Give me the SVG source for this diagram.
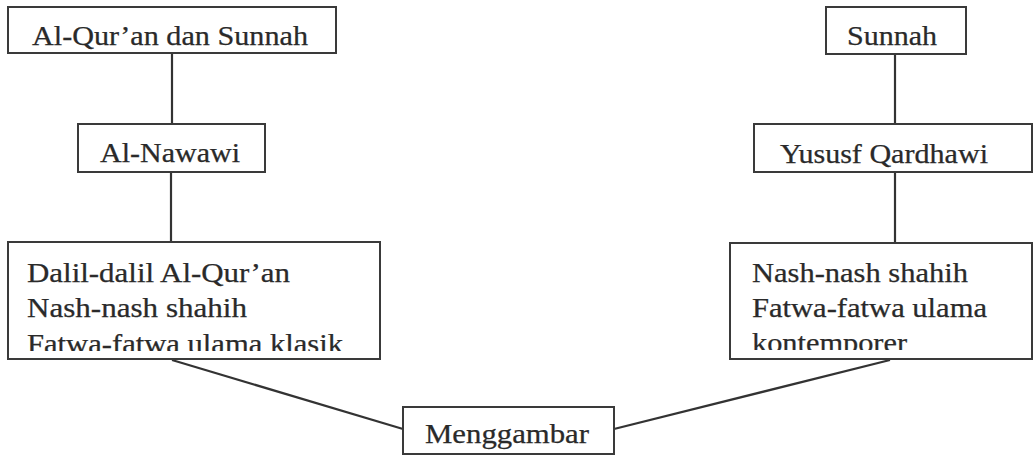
<svg xmlns="http://www.w3.org/2000/svg" width="1034" height="457" viewBox="0 0 1034 457">
<style>
.box{fill:#fff;stroke:#3a3a3a;stroke-width:2}
.t{font-family:"Liberation Serif","Times New Roman",serif;font-size:27px;fill:#2a2a2a;stroke:#2a2a2a;stroke-width:0.25}
.c{stroke:#333;stroke-width:2.2;fill:none}
</style>
<defs>
<clipPath id="clipL"><rect x="8" y="242" width="372" height="109"/></clipPath>
<clipPath id="clipR"><rect x="730" y="243" width="302" height="107"/></clipPath>
</defs>
<rect width="1034" height="457" fill="#fff"/>
<g id="connectors">
<line class="c" x1="172" y1="53" x2="172" y2="124"/>
<line class="c" x1="171" y1="172" x2="171" y2="242"/>
<line class="c" x1="895" y1="54" x2="895" y2="124"/>
<line class="c" x1="895" y1="172" x2="895" y2="243"/>
<line class="c" x1="172" y1="360" x2="403" y2="429"/>
<line class="c" x1="890" y1="360" x2="614" y2="429"/>
</g>
<g id="n-quran-sunnah">
<rect class="box" x="8" y="7" width="328" height="46"/>
<text class="t" x="32" y="45" textLength="276" lengthAdjust="spacingAndGlyphs">Al-Qur’an dan Sunnah</text>
</g>
<g id="n-nawawi">
<rect class="box" x="78" y="124" width="187" height="48"/>
<text class="t" x="100" y="162" textLength="140" lengthAdjust="spacingAndGlyphs">Al-Nawawi</text>
</g>
<g id="n-dalil">
<rect class="box" x="8" y="242" width="372" height="117"/>
<text class="t" x="27" y="282" textLength="263" lengthAdjust="spacingAndGlyphs">Dalil-dalil Al-Qur’an</text>
<text class="t" x="27" y="317" textLength="220" lengthAdjust="spacingAndGlyphs">Nash-nash shahih</text>
<text class="t" x="27" y="353" textLength="316" lengthAdjust="spacingAndGlyphs" clip-path="url(#clipL)">Fatwa-fatwa ulama klasik</text>
</g>
<g id="n-sunnah">
<rect class="box" x="826" y="7" width="140" height="47"/>
<text class="t" x="847" y="45" textLength="90" lengthAdjust="spacingAndGlyphs">Sunnah</text>
</g>
<g id="n-qardhawi">
<rect class="box" x="754" y="124" width="278" height="48"/>
<text class="t" x="780" y="163" textLength="208" lengthAdjust="spacingAndGlyphs">Yususf Qardhawi</text>
</g>
<g id="n-nash">
<rect class="box" x="730" y="243" width="302" height="116"/>
<text class="t" x="752" y="282" textLength="216" lengthAdjust="spacingAndGlyphs">Nash-nash shahih</text>
<text class="t" x="752" y="317" textLength="235" lengthAdjust="spacingAndGlyphs">Fatwa-fatwa ulama</text>
<text class="t" x="752" y="352" textLength="155" lengthAdjust="spacingAndGlyphs" clip-path="url(#clipR)">kontemporer</text>
</g>
<g id="n-menggambar">
<rect class="box" x="403" y="407" width="211" height="47"/>
<text class="t" x="425" y="443" textLength="164" lengthAdjust="spacingAndGlyphs">Menggambar</text>
</g>
</svg>
